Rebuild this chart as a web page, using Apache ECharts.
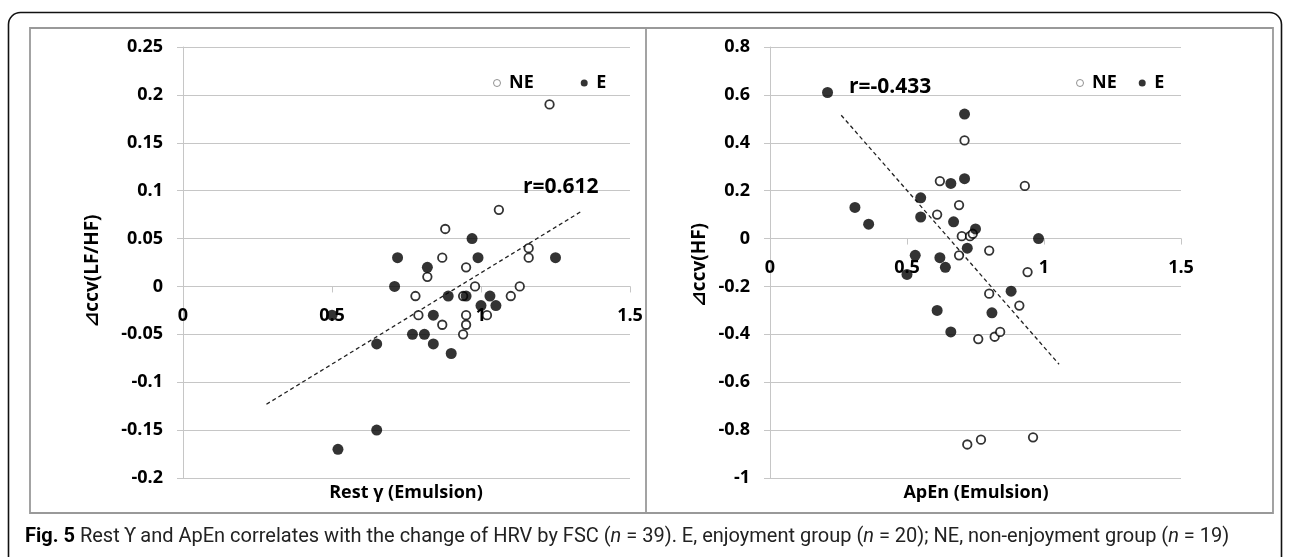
<!DOCTYPE html>
<html>
<head>
<meta charset="utf-8">
<script src="https://cdn.jsdelivr.net/npm/echarts@6/dist/echarts.min.js"></script>
<style>
    html, body {margin: 0; padding: 0; background: #fff;}
    #chart {width: 1290px; height: 557px;}
</style>
</head>
<body>
<div id="chart"></div>
<script>
//Rest gamma vs change of ccv(LF/HF)
var restNE = [
    [1.23, 0.19], [1.06, 0.08], [0.88, 0.06], [0.87, 0.03], [0.95, 0.02], [0.82, 0.01], [1.16, 0.04],
    [1.16, 0.03], [0.98, 0], [1.13, 0], [0.78, -0.01], [0.94, -0.01], [1.10, -0.01], [0.79, -0.03],
    [0.95, -0.03], [1.02, -0.03], [0.87, -0.04], [0.95, -0.04], [0.94, -0.05]
];
var restE = [
    [0.97, 0.05], [0.72, 0.03], [0.99, 0.03], [1.25, 0.03], [0.82, 0.02], [0.71, 0], [0.89, -0.01],
    [0.95, -0.01], [1.03, -0.01], [1.00, -0.02], [1.05, -0.02], [0.84, -0.03], [0.50, -0.03],
    [0.77, -0.05], [0.81, -0.05], [0.65, -0.06], [0.84, -0.06], [0.90, -0.07], [0.65, -0.15], [0.52, -0.17]
];
var restTrend = [[0.28, -0.123], [1.34, 0.079]];

//ApEn vs change of ccv(HF)
var apenNE = [
    [0.71, 0.41], [0.62, 0.24], [0.93, 0.22], [0.69, 0.14], [0.61, 0.10], [0.70, 0.01], [0.73, 0.01],
    [0.74, 0.02], [0.69, -0.07], [0.80, -0.05], [0.94, -0.14], [0.80, -0.23], [0.91, -0.28],
    [0.76, -0.42], [0.82, -0.41], [0.84, -0.39], [0.72, -0.86], [0.77, -0.84], [0.96, -0.83]
];
var apenE = [
    [0.21, 0.61], [0.71, 0.52], [0.71, 0.25], [0.66, 0.23], [0.55, 0.17], [0.31, 0.13], [0.55, 0.09],
    [0.36, 0.06], [0.67, 0.07], [0.75, 0.04], [0.72, -0.04], [0.98, 0], [0.53, -0.07], [0.62, -0.08],
    [0.64, -0.12], [0.50, -0.15], [0.88, -0.22], [0.81, -0.31], [0.61, -0.30], [0.66, -0.39]
];
var apenTrend = [[0.26, 0.515], [1.055, -0.525]];

//axis ranges : min, max, interval
var xRange     = [0, 1.5, 0.5];
var restYRange = [-0.2, 0.25, 0.05];
var apenYRange = [-1, 0.8, 0.2];

var FONT = '"Open Sans", "DejaVu Sans", sans-serif';
var CAP_FONT = '"Roboto", "Noto Sans", sans-serif';
var GRID_LINE = '#c6c6c6';
var PLOT_TOP = 47, PLOT_H = 431;

//x axis sits on y = 0, so push it up from the grid bottom
function zeroOffset(r) {
    return -PLOT_H * (0 - r[0]) / (r[1] - r[0]);
}

function xAxis(idx, yr) {
    return {
        type: 'value', gridIndex: idx,
        min: xRange[0], max: xRange[1], interval: xRange[2],
        offset: zeroOffset(yr),
        axisLine: {onZero: false, lineStyle: {color: GRID_LINE, width: 1}},
        axisTick: {show: true, length: 6, lineStyle: {color: GRID_LINE}},
        splitLine: {show: false},
        axisLabel: {margin: 20, color: '#000', fontSize: 18, fontWeight: 'bold', fontFamily: FONT}
    };
}

function yAxis(idx, r) {
    return {
        type: 'value', gridIndex: idx,
        min: r[0], max: r[1], interval: r[2],
        axisLine: {show: true, onZero: false, lineStyle: {color: GRID_LINE, width: 1}},
        axisTick: {show: true, length: 6, lineStyle: {color: GRID_LINE}},
        splitLine: {show: true, lineStyle: {color: GRID_LINE, width: 1}},
        axisLabel: {margin: 20, color: '#000', fontSize: 18, fontWeight: 'bold', fontFamily: FONT}
    };
}

function series(idx, ne, e, trend) {
    return [{
        name: 'NE', type: 'scatter', xAxisIndex: idx, yAxisIndex: idx,
        data: ne, symbol: 'circle', symbolSize: 8.5, z: 3,
        itemStyle: {color: '#fff', borderColor: '#000', borderWidth: 1.8}
    }, {
        name: 'E', type: 'scatter', xAxisIndex: idx, yAxisIndex: idx,
        data: e, symbol: 'circle', symbolSize: 11, z: 4,
        itemStyle: {color: '#000'}
    }, {
        name: 'trend', type: 'line', xAxisIndex: idx, yAxisIndex: idx,
        data: trend, symbol: 'none', silent: true, z: 2,
        lineStyle: {color: '#222', width: 1.3, type: [4, 3]}
    }];
}

function legend(left, gap) {
    return {
        left: left, top: 74, padding: 0, itemGap: gap,
        itemWidth: 14, itemHeight: 7, selectedMode: false,
        textStyle: {color: '#000', fontSize: 18, fontWeight: 'bold', fontFamily: FONT},
        data: [
            {name: 'NE', icon: 'circle', itemStyle: {color: '#fff', borderColor: '#777', borderWidth: 1}},
            {name: 'E', icon: 'circle', itemStyle: {color: '#000', borderWidth: 0}}
        ]
    };
}

function label(x, y, text, size, extra) {
    var s = {text: text, fill: '#000', font: 'bold ' + size + 'px ' + FONT, verticalAlign: 'middle'};
    for (var k in extra) s[k] = extra[k];
    return {type: 'text', x: x, y: y, silent: true, z: 10, style: s};
}

var chart = echarts.init(document.getElementById('chart'), null, {renderer: 'canvas'});

chart.setOption({
    animation: false,
    backgroundColor: '#fff',
    grid: [
        {left: 183, top: PLOT_TOP, width: 447, height: PLOT_H},
        {left: 770, top: PLOT_TOP, width: 411, height: PLOT_H}
    ],
    xAxis: [xAxis(0, restYRange), xAxis(1, apenYRange)],
    yAxis: [yAxis(0, restYRange), yAxis(1, apenYRange)],
    legend: [legend(493, 47), legend(1076, 22)],
    series: series(0, restNE, restE, restTrend).concat(series(1, apenNE, apenE, apenTrend)),
    graphic: [
        //outer frame
        {type: 'rect', silent: true, z: -1, shape: {x: 8.5, y: 12.5, width: 1273, height: 600, r: 12},
            style: {fill: 'none', stroke: '#111', lineWidth: 1.6}},
        //panel box
        {type: 'rect', silent: true, z: -1, shape: {x: 30, y: 28, width: 1243, height: 485},
            style: {fill: 'none', stroke: '#999', lineWidth: 1.8}},
        {type: 'line', silent: true, z: -1, shape: {x1: 646, y1: 28, x2: 646, y2: 513},
            style: {stroke: '#999', lineWidth: 1.8}},
        label(523, 187, 'r=0.612', 21),
        label(849, 87, 'r=-0.433', 21),
        label(406, 493, 'Rest γ (Emulsion)', 18, {align: 'center'}),
        label(976, 493, 'ApEn (Emulsion)', 18, {align: 'center'}),
        {type: 'text', x: 93, y: 271, rotation: Math.PI / 2, silent: true,
            style: {text: '⊿ccv(LF/HF)', fill: '#000', font: 'bold 19px ' + FONT, align: 'center', verticalAlign: 'middle'}},
        {type: 'text', x: 700, y: 265, rotation: Math.PI / 2, silent: true,
            style: {text: '⊿ccv(HF)', fill: '#000', font: 'bold 19px ' + FONT, align: 'center', verticalAlign: 'middle'}},
        //caption
        {type: 'text', x: 25, y: 537, silent: true,
            style: {
                text: '{b|Fig. 5} Rest ϒ and ApEn correlates with the change of HRV by FSC ({i|n} = 39). E, enjoyment group ({i|n} = 20); NE, non-enjoyment group ({i|n} = 19)',
                verticalAlign: 'middle', fill: '#222',
                font: '20px ' + CAP_FONT,
                rich: {
                    b: {fontWeight: 'bold', fontSize: 20, fontFamily: CAP_FONT, fill: '#000'},
                    i: {fontStyle: 'italic', fontSize: 20, fontFamily: CAP_FONT, fill: '#222'}
                }
            }}
    ]
});
</script>
</body>
</html>
